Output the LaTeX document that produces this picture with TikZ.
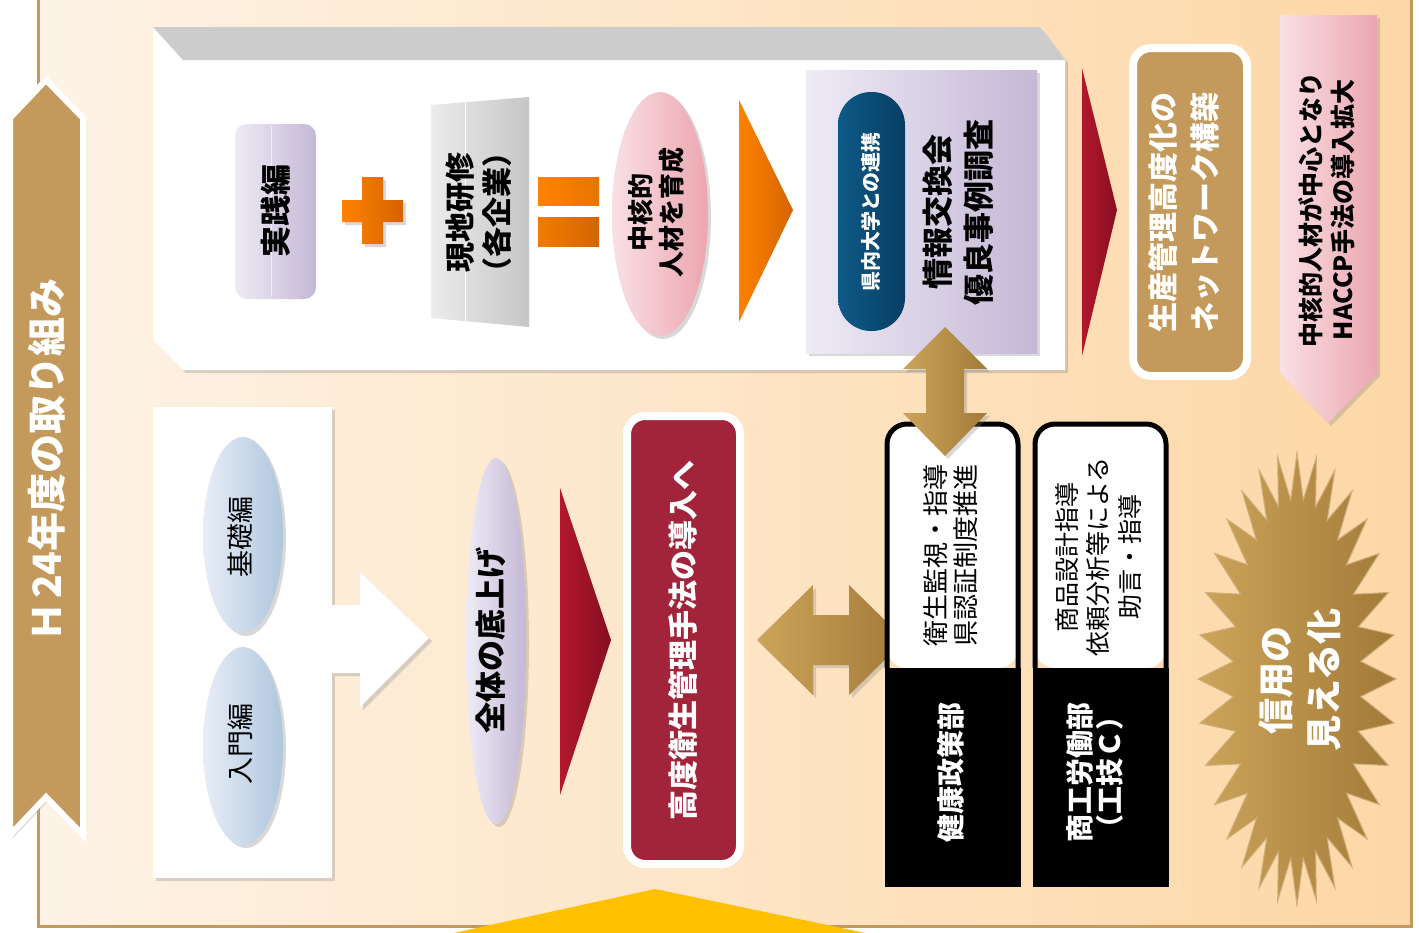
\documentclass[tikz,border=0pt]{standalone}
\usepackage{fontspec}
\setmainfont{Noto Sans CJK JP}
\usetikzlibrary{shadows}
\definecolor{bgL}{HTML}{FDF3E6}
\definecolor{bgR}{HTML}{FDD7A6}
\definecolor{tanC}{HTML}{C39A5B}
\definecolor{tanL}{HTML}{CDA45A}
\definecolor{tanD}{HTML}{A27A38}
\definecolor{lavL}{HTML}{EEEBF5}
\definecolor{lavR}{HTML}{C4B8D6}
\definecolor{pinkL}{HTML}{F9E0E4}
\definecolor{pinkR}{HTML}{ECA6B0}
\definecolor{orA}{HTML}{FF8200}
\definecolor{orB}{HTML}{D46400}
\definecolor{redA}{HTML}{B3182E}
\definecolor{redB}{HTML}{860E20}
\definecolor{crim}{HTML}{A2243A}
\definecolor{blueA}{HTML}{0E5A88}
\definecolor{blueB}{HTML}{083E62}
\definecolor{bluL}{HTML}{E8EEF6}
\definecolor{bluR}{HTML}{AFC6DE}
\definecolor{yel}{HTML}{FFC000}
\begin{document}
\begin{tikzpicture}[x=1pt,y=-1pt,
  jt/.style={rotate=90, align=center, inner sep=0pt},
  shadowed/.style={drop shadow={opacity=0.3, shadow xshift=3pt, shadow yshift=-3pt}},
]
\useasboundingbox (0,0) rectangle (1419,932);
% background
\fill[white] (0,0) rectangle (1419,932);
\fill[left color=bgL, right color=bgR] (38,0) rectangle (1411,926);
\draw[tanC, line width=3] (38,-5) -- (38,926) -- (1411,926) -- (1411,-5);
\fill[yel] (440,936) -- (655,889) -- (880,936) -- cycle;

% left banner
\draw[white, line width=6, fill=tanC, shadowed] (10,118) -- (46,80) -- (83,118) -- (83,835) -- (46,797) -- (10,835) -- cycle;
\node[jt, text=white, font=\fontsize{39}{44}\selectfont\bfseries] (title) at (47,460) {Ｈ\hspace{4pt}24年度の取り組み};

% top panel
\fill[white, shadowed] (153,27) -- (1040,27) -- (1065,60) -- (1065,370) -- (183,370) -- (153,340) -- cycle;
\fill[gray!40] (153,27) -- (1040,27) -- (1065,60) -- (183,60) -- cycle;

\shade[left color=lavL, right color=lavR, rounded corners=12] (235,124) rectangle (316,299);
\draw[white, opacity=0.6, line width=0.8] (271,126) -- (271,297);
\node[jt, font=\fontsize{31}{38}\selectfont\bfseries] (jissen) at (276,211) {実践編};

\shade[left color=orA, right color=orB, shadowed] (362,177) -- (383,177) -- (383,200) -- (403,200) -- (403,222) -- (383,222) -- (383,244) -- (362,244) -- (362,222) -- (342,222) -- (342,200) -- (362,200) -- cycle;

\shade[left color=gray!15, right color=gray!45] (431,105) -- (529,97) -- (529,327) -- (431,318) -- cycle;
\draw[white, line width=1] (465,102) -- (465,322);
\node[jt, font=\fontsize{30}{37}\selectfont\bfseries] (genchi) at (479,212) {現地研修\\（各企業）};

\shade[left color=orA, right color=orA!90!black] (538,177) rectangle (599,205);
\shade[left color=orA!95!black, right color=orB] (538,217) rectangle (599,246);

\shade[left color=pinkL, right color=pinkR, shadowed] (660,214) ellipse [x radius=48, y radius=122];
\node[jt, font=\fontsize{26}{31}\selectfont\bfseries] (jinzai) at (656,212) {中核的\\人材を育成};

\shade[left color=orA, right color=orB] (739,100) -- (793,210) -- (739,322) -- cycle;

\shade[left color=lavL, right color=lavR, shadowed] (806,70) rectangle (1037,353);
\shade[left color=blueA, right color=blueB, rounded corners=33] (838,92) rectangle (905,331);
\node[jt, text=white, font=\fontsize{20}{24}\selectfont\bfseries] (renkei) at (871,212) {県内大学との連携};
\node[jt, font=\fontsize{31}{41}\selectfont\bfseries] (joho) at (958,212) {情報交換会\\優良事例調査};

\shade[left color=redA, right color=redB] (1082,68) -- (1117,210) -- (1082,356) -- cycle;

\draw[white, line width=8, fill=tanC, rounded corners=18, shadowed] (1133,48) rectangle (1247,376);
\node[jt, text=white, font=\fontsize{30}{42}\selectfont\bfseries] (network) at (1184,212) {生産管理高度化の\\ネットワーク構築};

\shade[left color=pinkL, right color=pinkR, shadowed] (1280,15) -- (1377,15) -- (1377,373) -- (1328,423) -- (1280,373) -- cycle;
\node[jt, font=\fontsize{25}{32}\selectfont\bfseries] (haccp) at (1327,210) {中核的人材が中心となり\\HACCP手法の導入拡大};

% lower left
\fill[white, shadowed] (153,407) rectangle (332,878);
\shade[left color=bluL, right color=bluR, shadowed] (243,535) ellipse [x radius=40, y radius=98];
\shade[left color=bluL, right color=bluR, shadowed] (243,746) ellipse [x radius=40, y radius=99];
\node[jt, font=\fontsize{27}{32}\selectfont] (kiso) at (240,537) {基礎編};
\node[jt, font=\fontsize{27}{32}\selectfont] (nyumon) at (240,744) {入門編};
\fill[white, shadowed] (332,605) -- (360,605) -- (360,572) -- (429,638) -- (360,707) -- (360,673) -- (332,673) -- cycle;

\shade[left color=lavL, right color=lavR, shadowed] (496,641) ellipse [x radius=30, y radius=183];
\node[jt, font=\fontsize{31}{36}\selectfont\bfseries] (sokoage) at (491,640) {全体の底上げ};

\shade[left color=redA, right color=redB] (560,488) -- (611,640) -- (560,795) -- cycle;

\draw[white, line width=8, fill=crim, rounded corners=18, shadowed] (627,416) rectangle (740,864);
\node[jt, text=white, font=\fontsize{30}{36}\selectfont\bfseries] (kodo) at (683,640) {高度衛生管理手法の導入へ};

\shade[left color=tanL, right color=tanD, shadowed] (757,640) -- (813,585) -- (813,615) -- (849,615) -- (849,585) -- (905,640) -- (849,695) -- (849,665) -- (813,665) -- (813,695) -- cycle;

% black-outlined boxes
\fill[white, rounded corners=20] (887,668) -- (887,424) -- (1018,424) -- (1018,668) -- cycle;
\draw[line width=5, rounded corners=20] (887,668) -- (887,424) -- (1018,424) -- (1018,668);
\fill[black] (884.5,668) rectangle (1020.5,887);
\node[jt, font=\fontsize{26}{30}\selectfont] (eisei) at (951,555) {衛生監視・指導\\県認証制度推進};
\node[jt, text=white, font=\fontsize{28}{32}\selectfont\bfseries] (kenko) at (951,772) {健康政策部};

\fill[white, rounded corners=20] (1035,668) -- (1035,424) -- (1166,424) -- (1166,668) -- cycle;
\draw[line width=5, rounded corners=20] (1035,668) -- (1035,424) -- (1166,424) -- (1166,668);
\fill[black] (1032.5,668) rectangle (1168.5,887);
\node[jt, font=\fontsize{25}{31.5}\selectfont] (shohin) at (1098,557) {商品設計指導\\依頼分析等による\\助言・指導};
\node[jt, text=white, font=\fontsize{28}{30}\selectfont\bfseries] (shoko) at (1095,772) {商工労働部\\（工技Ｃ）};

\shade[left color=tanL, right color=tanD, shadowed] (945,327) -- (987,369) -- (964,369) -- (964,413) -- (987,413) -- (945,456) -- (903,413) -- (926,413) -- (926,369) -- (903,369) -- cycle;

% starburst
\begin{scope}[shift={(1297,679)}]
\shade[left color=tanL, right color=tanD, draw=tanC!80!white, line width=1]
  (0:99pt and 226pt) \foreach \i in {0,...,31} { -- ({\i*11.25}:99pt and 226pt) -- ({\i*11.25+5.625}:64pt and 180pt) } -- cycle;
\end{scope}
\node[jt, text=white, font=\fontsize{36}{48}\selectfont\bfseries] (shinyo) at (1300,680) {信用の\\見える化};
\end{tikzpicture}
\end{document}
